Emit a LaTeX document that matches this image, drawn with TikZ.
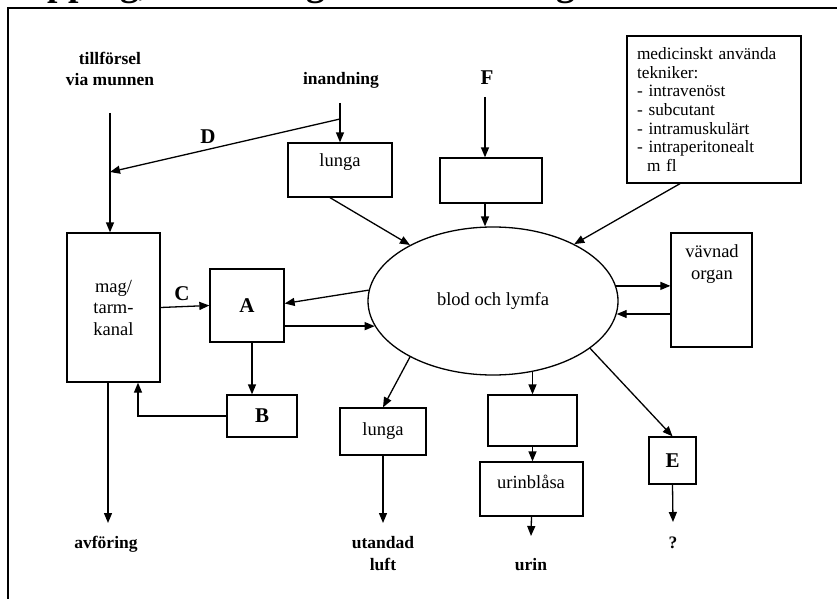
\documentclass[tikz,border=0pt]{standalone}
\usepackage{fontspec}
\setmainfont{Liberation Serif}
\usetikzlibrary{arrows.meta,shapes.geometric}

\begin{document}
\begin{tikzpicture}[x=1pt, y=-1pt, line width=1.3pt,
    box/.style={draw, inner sep=0pt},
    flow/.style={-{Triangle[length=10pt,width=8pt]}},
    txt/.style={inner sep=0pt, align=center, font=\fontsize{18.5}{21.5}\selectfont},
    bold/.style={inner sep=0pt, align=center, font=\fontsize{17.5}{21.5}\selectfont\bfseries},
    letter/.style={inner sep=0pt, font=\fontsize{21}{24}\selectfont\bfseries}]
  \useasboundingbox (0,0) rectangle (837,599);
  % frame and the cut off title
  \draw[line width=1.7pt] (8,599) -- (8,8) -- (837,8);
  \node[anchor=base west, inner sep=0pt, font=\fontsize{37.5}{40}\selectfont\bfseries] (title) at (20,-4) {Upptag, fördelning och utsöndring};

  % inputs
  \node[bold] (tillf) at (110,69) {tillförsel\\via munnen};
  \node[bold] (inand) at (341,80) {inandning};
  \node[letter] (F) at (487,78) {F};
  \coordinate (tin) at (110,113);
  \coordinate (iin) at (340,103);
  \coordinate (fin) at (485,97);
  \coordinate (dstart) at (340,119);
  \coordinate (dend) at (110,172);

  % boxes
  \node[draw, ellipse, minimum width=250pt, minimum height=148pt, txt] (blod) at (493,301) {blod och lymfa};
  \node[box, minimum width=104pt, minimum height=54pt] (lunga1) at (340,170) {};
  \node[txt] (lunga1txt) at (340,162) {lunga};
  \node[box, minimum width=102pt, minimum height=45pt] (fbox) at (491,180.5) {};
  \node[box, text width=154pt, align=left, inner xsep=10pt, minimum height=147pt,
        font=\fontsize{17.3}{18.6}\selectfont] (med) at (714,109.5)
        {medicinskt använda\\tekniker:\\- intravenöst\\- subcutant\\- intramuskulärt\\- intraperitonealt\\\hspace*{10pt}m fl};
  \node[box, minimum width=81pt, minimum height=114pt] (vav) at (711.5,290) {};
  \node[txt] (vavtxt) at (712,264) {vävnad\\organ};
  \node[box, txt, minimum width=93pt, minimum height=149pt] (mag) at (113.5,307.5) {mag/\\tarm-\\kanal};
  \node[box, letter, minimum width=74pt, minimum height=73pt] (A) at (247,305.5) {A};
  \node[box, letter, minimum width=70pt, minimum height=42pt] (B) at (262,416) {B};
  \node[box, txt, minimum width=86pt, minimum height=47pt] (lunga2) at (383,431.5) {lunga};
  \node[box, minimum width=89pt, minimum height=51pt] (nbox) at (532.5,420.5) {};
  \node[box, minimum width=103pt, minimum height=54pt] (ubox) at (531.5,489) {};
  \node[txt] (uboxtxt) at (531,482) {urinblåsa};
  \node[box, letter, minimum width=47pt, minimum height=47pt] (E) at (672.5,460.5) {E};

  % labels on the arrows
  \node[letter] (C) at (182,294) {C};
  \node[letter] (D) at (208,137) {D};

  % outputs
  \node[bold] (avf) at (106,544) {avföring};
  \node[bold] (utl) at (383,553.5) {utandad\\luft};
  \node[bold] (urin) at (531,565) {urin};
  \node[bold] (q) at (673,543) {?};
  \coordinate (avfend) at (108,523);
  \coordinate (utlend) at (383,523);
  \coordinate (urinend) at (531,536);
  \coordinate (qend) at (673,522);

  % connectors
  \draw[flow] (tin) -- (tin |- mag.north);
  \draw[flow] (dstart) -- (dend);
  \draw[flow] (iin) -- (lunga1.north);
  \draw[flow] ([xshift=-10pt]lunga1.south) -- (blod.146);
  \draw[flow] (fin) -- (fin |- fbox.north);
  \draw[flow] (fbox.south -| fin) -- (fin |- blod.north);
  \draw[flow] ([xshift=-34pt]med.south) -- (blod.35);
  \draw[flow] (blod.7.5) -- (blod.7.5 -| vav.west);
  \draw[flow] (blod.354.4 -| vav.west) -- (blod.354.4);
  \draw[flow] (mag.east) -- (A.west);
  \draw[flow] (blod.175) -- ([yshift=2pt]A.east);
  \draw[flow] (blod.192.5 -| A.east) -- (blod.192.5);
  \draw[flow] ([xshift=5pt]A.south) -- ([xshift=5pt]A.south |- B.north);
  \draw[flow] (B.west) -| ([xshift=24.5pt]mag.south);
  \draw[flow] (mag.south -| avfend) -- (avfend);
  \draw[flow] (blod.214.5) -- (lunga2.north);
  \draw[flow] (lunga2.south) -- (utlend);
  \draw[flow] (nbox.north |- blod.298.2) -- (nbox.north);
  \draw[flow] (nbox.south) -- (nbox.south |- ubox.north);
  \draw[flow] (ubox.south) -- (urinend);
  \draw[flow] (blod.334.6) -- (E.north);
  \draw[flow] (E.south) -- (qend);
\end{tikzpicture}
\end{document}
